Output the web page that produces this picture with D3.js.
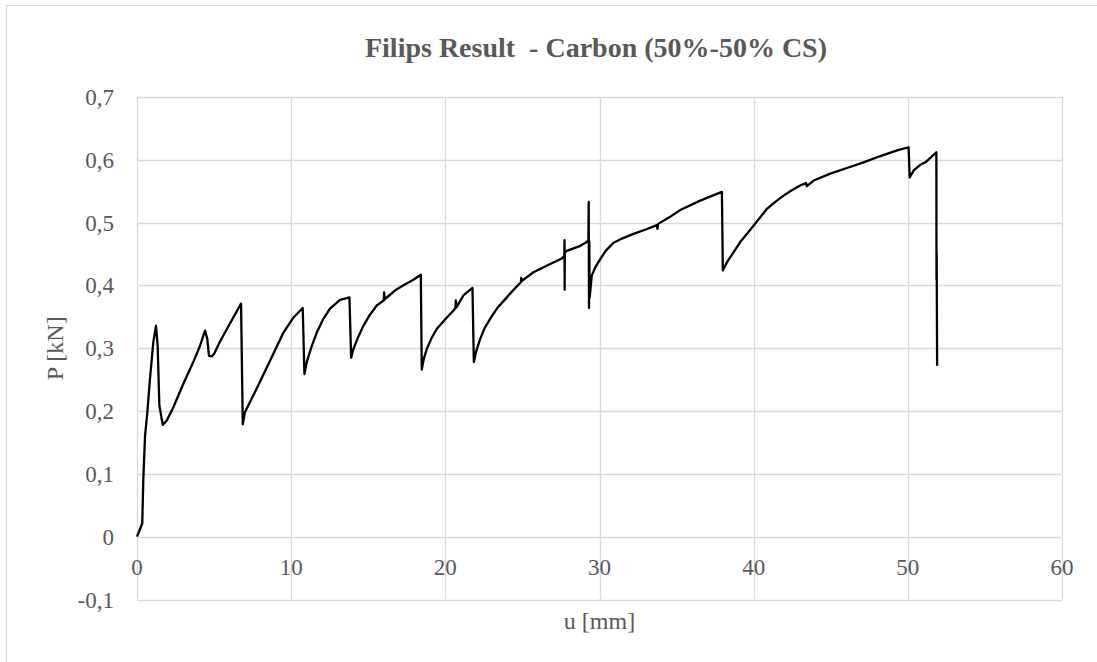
<!DOCTYPE html>
<html>
<head>
<meta charset="utf-8">
<script src="https://cdn.jsdelivr.net/npm/d3@7/dist/d3.min.js"></script>
<style>
  html, body { margin: 0; padding: 0; background: #fff; }
  svg { display: block; }
  text { font-family: "Liberation Serif", "DejaVu Serif", serif; fill: #595959; }
</style>
</head>
<body>
<svg id="chart" width="1097" height="662"></svg>
<script>
// Load–displacement curve: displacement u [mm] and load P [kN]
const uValues = [
  0, 0.34, 0.41, 0.52, 0.67, 0.84, 1.06, 1.23, 1.34, 1.45, 1.67, 1.93, 2.36, 3.0, 3.65, 4.09, 4.41, 4.56, 4.67, 4.85,
  5.0, 5.37, 6.02, 6.75, 6.86, 7.0, 7.75, 8.63, 9.5, 10.15, 10.75, 10.86, 11.01, 11.3, 11.66, 12.05, 12.52, 13.17, 13.78, 13.89,
  14.04, 14.35, 14.69, 15.1, 15.55, 16.0, 16.03, 16.06, 16.85, 17.4, 17.93, 18.41, 18.47, 18.6, 18.8, 19.1, 19.45, 20.1, 20.53, 20.66, 20.68, 20.72,
  21.17, 21.76, 21.85, 22.0, 22.26, 22.55, 22.91, 23.4, 23.99, 24.5, 24.9, 24.92, 24.95, 25.72, 26.8, 27.56, 27.72, 27.73, 27.74, 27.75, 27.88,
  28.75, 29.18, 29.28, 29.3, 29.32, 29.34, 29.36, 29.5, 29.75, 30.05, 30.4, 30.91, 31.5, 32.2, 33.0, 33.72, 33.76, 33.8, 34.5, 35.24, 36.53, 37.94,
  38.0, 38.27, 38.7, 39.13, 39.99, 40.86, 41.4, 41.94, 42.5, 43.02, 43.4, 43.45, 43.89, 44.97, 46.05, 47.13, 48.22, 49.3, 50.05, 50.12,
  50.38, 50.81, 51.14, 51.46, 51.85, 51.86, 51.87, 51.9
];
const pValues = [
  0, 0.021, 0.092, 0.16, 0.198, 0.251, 0.31, 0.336, 0.304, 0.209, 0.178, 0.185, 0.206, 0.243, 0.278, 0.304, 0.328, 0.315, 0.288, 0.287,
  0.291, 0.31, 0.339, 0.371, 0.179, 0.198, 0.235, 0.28, 0.325, 0.349, 0.364, 0.259, 0.278, 0.301, 0.325, 0.345, 0.363, 0.377, 0.381, 0.285,
  0.299, 0.318, 0.336, 0.353, 0.368, 0.376, 0.389, 0.378, 0.394, 0.402, 0.409, 0.417, 0.266, 0.283, 0.299, 0.316, 0.331, 0.349, 0.36, 0.364, 0.376, 0.365,
  0.384, 0.396, 0.278, 0.295, 0.315, 0.332, 0.347, 0.365, 0.381, 0.395, 0.405, 0.412, 0.407, 0.421, 0.434, 0.443, 0.447, 0.472, 0.393, 0.452, 0.455,
  0.463, 0.469, 0.472, 0.533, 0.364, 0.47, 0.38, 0.416, 0.43, 0.442, 0.455, 0.468, 0.475, 0.482, 0.489, 0.496, 0.49, 0.498, 0.508, 0.52, 0.535, 0.549,
  0.424, 0.437, 0.453, 0.469, 0.495, 0.522, 0.533, 0.543, 0.552, 0.559, 0.563, 0.558, 0.567, 0.578, 0.587, 0.596, 0.606, 0.615, 0.62, 0.572,
  0.583, 0.592, 0.596, 0.603, 0.612, 0.41, 0.453, 0.272
];

// Axis ticks
const xTicks = [0, 10, 20, 30, 40, 50, 60];
const yTicks = [-0.1, 0, 0.1, 0.2, 0.3, 0.4, 0.5, 0.6, 0.7];

const titleText = "Filips Result  - Carbon (50%-50% CS)";
const xLabel = "u [mm]";
const yLabel = "P [kN]";

const svg = d3.select("#chart");
const plot = { left: 137, right: 1062, top: 97, bottom: 599.5 };

const x = d3.scaleLinear().domain([0, 60]).range([plot.left, plot.right]);
const y = d3.scaleLinear().domain([-0.1, 0.7]).range([plot.bottom, plot.top]);

// Chart frame
svg.append("rect")
  .attr("x", 6.5).attr("y", 5.5)
  .attr("width", 1200).attr("height", 800)
  .attr("fill", "none").attr("stroke", "#d9d9d9").attr("stroke-width", 1);

const fmt = v => String(Math.round(v * 10) / 10).replace(".", ",");

// Gridlines
svg.append("g")
  .selectAll("line")
  .data(yTicks)
  .join("line")
  .attr("x1", plot.left).attr("x2", plot.right)
  .attr("y1", d => Math.round(y(d)) + 0.5).attr("y2", d => Math.round(y(d)) + 0.5)
  .attr("stroke", "#d9d9d9").attr("stroke-width", 1.3);

svg.append("g")
  .selectAll("line")
  .data(xTicks)
  .join("line")
  .attr("y1", plot.top).attr("y2", plot.bottom)
  .attr("x1", d => Math.round(x(d)) + 0.5).attr("x2", d => Math.round(x(d)) + 0.5)
  .attr("stroke", "#d9d9d9").attr("stroke-width", 1.3);

// Y tick labels
svg.append("g")
  .selectAll("text")
  .data(yTicks)
  .join("text")
  .attr("x", plot.left - 23)
  .attr("y", d => y(d))
  .attr("dy", "0.35em")
  .attr("text-anchor", "end")
  .style("font-size", "23px")
  .text(d => fmt(d));

// X tick labels sit on the zero line
svg.append("g")
  .selectAll("text")
  .data(xTicks)
  .join("text")
  .attr("x", d => x(d))
  .attr("y", y(0) + 30)
  .attr("dy", "0.35em")
  .attr("text-anchor", "middle")
  .style("font-size", "23px")
  .text(d => d);

// Axis titles
svg.append("text")
  .attr("x", (plot.left + plot.right) / 2)
  .attr("y", 621)
  .attr("dy", "0.35em")
  .attr("text-anchor", "middle")
  .style("font-size", "24px")
  .text(xLabel);

svg.append("text")
  .attr("transform", `translate(55,${(plot.top + plot.bottom) / 2}) rotate(-90)`)
  .attr("dy", "0.35em")
  .attr("text-anchor", "middle")
  .style("font-size", "24px")
  .text(yLabel);

// Title
svg.append("text")
  .attr("x", 596)
  .attr("y", 47)
  .attr("dy", "0.35em")
  .attr("text-anchor", "middle")
  .style("font-size", "28px")
  .style("font-weight", "bold")
  .style("white-space", "pre")
  .text(titleText);

// Curve
const points = uValues.map((u, i) => [u, pValues[i]]);
svg.append("path")
  .datum(points)
  .attr("fill", "none")
  .attr("stroke", "#000")
  .attr("stroke-width", 2.3)
  .attr("stroke-linejoin", "round")
  .attr("d", d3.line().x(d => x(d[0])).y(d => y(d[1])));
</script>
</body>
</html>
